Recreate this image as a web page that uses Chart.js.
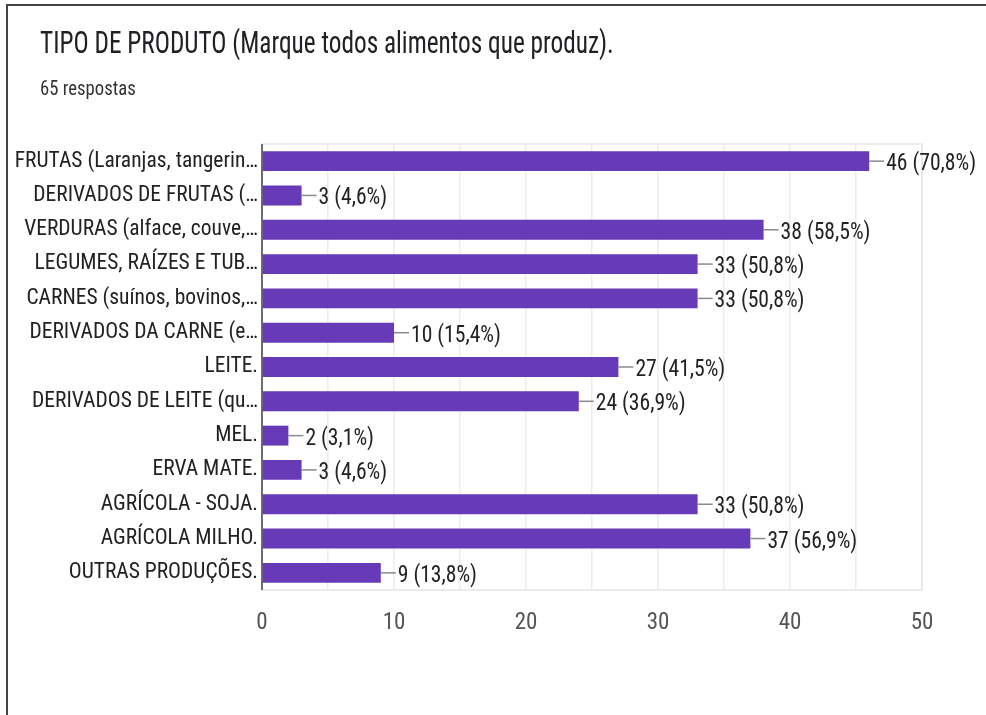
<!DOCTYPE html>
<html>
<head>
<meta charset="utf-8">
<script src="https://cdn.jsdelivr.net/npm/chart.js@4/dist/chart.umd.min.js"></script>
<style>
  html, body { margin: 0; padding: 0; background: #fff; }
  #wrap { position: relative; width: 986px; height: 715px; overflow: hidden; }
  #frame { position: absolute; left: 6px; top: 4px; width: 1000px; height: 800px;
           border-top: 2px solid #444; border-left: 2px solid #444; pointer-events: none; }
  canvas { position: absolute; left: 0; top: 0; }
</style>
</head>
<body>
<div id="wrap">
  <canvas id="c" width="986" height="715"></canvas>
  <div id="frame"></div>
</div>
<script>
const titleText = "TIPO DE PRODUTO (Marque todos alimentos que produz).";
const subtitleText = "65 respostas";
const categories = [
  "FRUTAS (Laranjas, tangerin…",
  "DERIVADOS DE FRUTAS (…",
  "VERDURAS (alface, couve,…",
  "LEGUMES, RAÍZES E TUB…",
  "CARNES (suínos, bovinos,…",
  "DERIVADOS DA CARNE (e…",
  "LEITE.",
  "DERIVADOS DE LEITE (qu…",
  "MEL.",
  "ERVA MATE.",
  "AGRÍCOLA - SOJA.",
  "AGRÍCOLA MILHO.",
  "OUTRAS PRODUÇÕES."
];
const counts = [46, 3, 38, 33, 33, 10, 27, 24, 2, 3, 33, 37, 9];
const percents = ["70,8%", "4,6%", "58,5%", "50,8%", "50,8%", "15,4%", "41,5%", "36,9%", "3,1%", "4,6%", "50,8%", "56,9%", "13,8%"];
const xTicks = [0, 10, 20, 30, 40, 50];

const FONT = "'Liberation Sans Narrow', 'Arial Narrow', 'Roboto Condensed', sans-serif";

function squeezedText(ctx, text, x, y, font, color, sx) {
  ctx.save();
  ctx.font = font;
  ctx.fillStyle = color;
  ctx.textAlign = 'left';
  ctx.textBaseline = 'alphabetic';
  ctx.translate(x, y);
  ctx.scale(sx, 1);
  ctx.fillText(text, 0, 0);
  ctx.restore();
}

const headerText = {
  id: 'headerText',
  afterDraw(chart) {
    const ctx = chart.ctx;
    squeezedText(ctx, titleText, 40, 53, "32px " + FONT, '#202124', 0.79);
    squeezedText(ctx, subtitleText, 40, 95, "21px " + FONT, '#333', 0.89);
  }
};

const valueLabels = {
  id: 'valueLabels',
  afterDatasetsDraw(chart) {
    const ctx = chart.ctx;
    const meta = chart.getDatasetMeta(0);
    ctx.save();
    meta.data.forEach((bar, i) => {
      const x = bar.x, y = bar.y;
      ctx.strokeStyle = '#8a8a8a';
      ctx.lineWidth = 1.5;
      ctx.beginPath();
      ctx.moveTo(x, y);
      ctx.lineTo(x + 15, y);
      ctx.stroke();
      squeezedText(ctx, counts[i] + " (" + percents[i] + ")", x + 17, y + 9, "24px " + FONT, '#222', 0.9);
    });
    ctx.restore();
  }
};

const areaFrame = {
  id: 'areaFrame',
  beforeDatasetsDraw(chart) {
    const a = chart.chartArea, ctx = chart.ctx;
    ctx.save();
    ctx.strokeStyle = '#e6e6e6';
    ctx.lineWidth = 1.5;
    ctx.strokeRect(a.left, a.top, a.right - a.left, a.bottom - a.top);
    ctx.strokeStyle = '#444';
    ctx.lineWidth = 1.5;
    ctx.beginPath();
    ctx.moveTo(a.left, a.top);
    ctx.lineTo(a.left, a.bottom);
    ctx.stroke();
    ctx.restore();
  }
};

new Chart(document.getElementById('c'), {
  type: 'bar',
  data: {
    labels: categories,
    datasets: [{
      data: counts,
      backgroundColor: '#673AB7',
      borderWidth: 0,
      categoryPercentage: 1.0,
      barPercentage: 0.58
    }]
  },
  plugins: [areaFrame, valueLabels, headerText],
  options: {
    indexAxis: 'y',
    responsive: false,
    animation: false,
    layout: { padding: { left: 0, right: 64, top: 144, bottom: 0 } },
    plugins: {
      legend: { display: false },
      tooltip: { enabled: false },
      title: { display: false },
      subtitle: { display: false }
    },
    scales: {
      x: {
        min: 0, max: 50,
        ticks: {
          stepSize: 5,
          color: '#555',
          padding: 19,
          font: { family: FONT, size: 23 },
          callback: (v) => (xTicks.includes(v) ? String(v) : '')
        },
        grid: { color: '#ececec', lineWidth: 1.5, drawTicks: false },
        border: { display: false },
        afterFit: (s) => { s.height = 125; }
      },
      y: {
        ticks: {
          color: '#222',
          padding: 4,
          font: { family: FONT, size: 21.5 },
          autoSkip: false
        },
        grid: { display: false, drawTicks: false },
        border: { display: false },
        afterFit: (s) => { s.width = 262; }
      }
    }
  }
});
</script>
</body>
</html>
